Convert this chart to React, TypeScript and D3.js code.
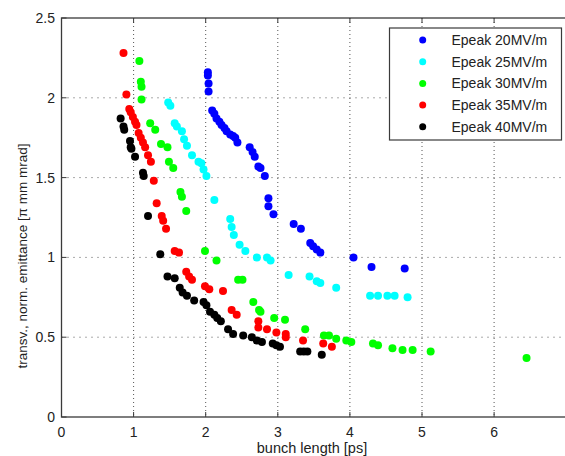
import React from "react";
import * as d3 from "d3";

const xTicks = [0, 1, 2, 3, 4, 5, 6];
const yTicks = [0, 0.5, 1, 1.5, 2, 2.5];
const seriesNames = ["Epeak 20MV/m", "Epeak 25MV/m", "Epeak 30MV/m", "Epeak 35MV/m", "Epeak 40MV/m"];
const seriesColors = ["#0000ff", "#00ffff", "#00ff00", "#ff0000", "#000000"];

const blue: [number, number][] = [
  [2.03, 2.16], [2.03, 2.14], [2.04, 2.09], [2.04, 2.04], [2.09, 1.92], [2.12, 1.9], [2.15, 1.87],
  [2.19, 1.85], [2.22, 1.83], [2.26, 1.81], [2.29, 1.79], [2.34, 1.77], [2.38, 1.76], [2.41, 1.75],
  [2.44, 1.72], [2.61, 1.69], [2.65, 1.66], [2.68, 1.63], [2.73, 1.57], [2.76, 1.56], [2.82, 1.51],
  [2.87, 1.37], [2.87, 1.32], [2.94, 1.27], [3.22, 1.21], [3.32, 1.18], [3.45, 1.09], [3.49, 1.07],
  [3.54, 1.05], [3.59, 1.03], [4.05, 1.0], [4.3, 0.94], [4.76, 0.93],
];
const cyan: [number, number][] = [
  [1.48, 1.97], [1.51, 1.95], [1.57, 1.84], [1.6, 1.82], [1.67, 1.79], [1.7, 1.74], [1.74, 1.7],
  [1.81, 1.64], [1.9, 1.6], [1.94, 1.59], [1.97, 1.55], [2.01, 1.51], [2.12, 1.36], [2.34, 1.24],
  [2.36, 1.19], [2.39, 1.14], [2.47, 1.08], [2.55, 1.04], [2.71, 1.0], [2.85, 1.0], [2.9, 0.98],
  [3.15, 0.89], [3.44, 0.88], [3.54, 0.85], [3.59, 0.84], [3.81, 0.81], [4.28, 0.76], [4.39, 0.76],
  [4.52, 0.76], [4.62, 0.76], [4.8, 0.75],
];
const green: [number, number][] = [
  [1.08, 2.23], [1.1, 2.1], [1.11, 2.07], [1.11, 1.99], [1.23, 1.84], [1.3, 1.8], [1.38, 1.71],
  [1.47, 1.69], [1.49, 1.6], [1.55, 1.56], [1.65, 1.41], [1.67, 1.38], [1.73, 1.29], [1.99, 1.04],
  [2.15, 0.98], [2.45, 0.86], [2.51, 0.86], [2.66, 0.72], [2.74, 0.67], [2.76, 0.66], [2.95, 0.62],
  [3.1, 0.61], [3.38, 0.55], [3.64, 0.51], [3.71, 0.51], [3.81, 0.49], [3.95, 0.48], [4.02, 0.47],
  [4.32, 0.46], [4.39, 0.45], [4.59, 0.43], [4.73, 0.42], [4.87, 0.42], [5.12, 0.41], [6.45, 0.37],
];
const red: [number, number][] = [
  [0.86, 2.28], [0.9, 2.02], [0.94, 1.93], [0.96, 1.91], [0.99, 1.88], [1.02, 1.85], [1.04, 1.83],
  [1.07, 1.78], [1.1, 1.75], [1.13, 1.72], [1.16, 1.69], [1.2, 1.64], [1.24, 1.6], [1.28, 1.48],
  [1.32, 1.34], [1.39, 1.26], [1.41, 1.23], [1.45, 1.18], [1.57, 1.04], [1.63, 1.03], [1.73, 0.91],
  [1.77, 0.88], [1.81, 0.86], [1.99, 0.82], [2.05, 0.8], [2.24, 0.79], [2.36, 0.67], [2.43, 0.64],
  [2.73, 0.6], [2.73, 0.56], [2.85, 0.55], [2.98, 0.53], [3.11, 0.52], [3.11, 0.5], [3.35, 0.48],
  [3.63, 0.46], [3.75, 0.44],
];
const black: [number, number][] = [
  [0.82, 1.87], [0.86, 1.82], [0.87, 1.8], [0.95, 1.73], [0.96, 1.69], [0.97, 1.68], [1.02, 1.63],
  [1.13, 1.53], [1.14, 1.51], [1.2, 1.26], [1.37, 1.02], [1.47, 0.88], [1.57, 0.87], [1.64, 0.81],
  [1.68, 0.78], [1.74, 0.76], [1.84, 0.73], [1.97, 0.72], [2.01, 0.7], [2.06, 0.66], [2.12, 0.64],
  [2.16, 0.62], [2.21, 0.6], [2.31, 0.55], [2.38, 0.52], [2.52, 0.51], [2.64, 0.5], [2.71, 0.48],
  [2.78, 0.47], [2.93, 0.46], [2.98, 0.45], [3.03, 0.44], [3.31, 0.41], [3.36, 0.41], [3.41, 0.41],
  [3.61, 0.39],
];

const allSeries = [blue, cyan, green, red, black];

const W = 565;
const H = 456;
const left = 61.5;
const right = 566.2;
const top = 18;
const bottom = 417;
const font = "Arial, 'Liberation Sans', Helvetica, sans-serif";

export default function App() {
  const x = d3.scaleLinear().domain([0, 7]).range([left, right]);
  const y = d3.scaleLinear().domain([0, 2.5]).range([bottom, top]);
  const frame = "#3a3a3a";

  return (
    <svg
      width={W}
      height={H}
      style={{ position: "fixed", left: 0, top: 0, background: "#fff" }}
      fontFamily={font}
    >
      <rect x={0} y={0} width={W} height={H} fill="#fff" />
      {xTicks.slice(1).map((t) => (
        <line key={"gx" + t} x1={x(t)} x2={x(t)} y1={top} y2={bottom} stroke="#555" strokeWidth={1} strokeDasharray="1,3" />
      ))}
      {yTicks.slice(1, -1).map((t) => (
        <line key={"gy" + t} x1={left} x2={right} y1={y(t)} y2={y(t)} stroke="#555" strokeWidth={1} strokeDasharray="1,5" />
      ))}
      <rect x={left} y={top} width={right - left} height={bottom - top} fill="none" stroke={frame} strokeWidth={1.3} />
      {xTicks.map((t) => (
        <g key={"tx" + t}>
          <line x1={x(t)} x2={x(t)} y1={bottom} y2={bottom - 5} stroke={frame} />
          <line x1={x(t)} x2={x(t)} y1={top} y2={top + 5} stroke={frame} />
          <text x={x(t)} y={437} fontSize={14} textAnchor="middle" fill="#222">
            {d3.format("")(t)}
          </text>
        </g>
      ))}
      {yTicks.map((t) => (
        <g key={"ty" + t}>
          <line x1={left} x2={left + 5} y1={y(t)} y2={y(t)} stroke={frame} />
          <text x={55} y={y(t) + 5} fontSize={14} textAnchor="end" fill="#222">
            {d3.format("")(t)}
          </text>
        </g>
      ))}
      {allSeries.map((s, i) => (
        <g key={"s" + i} fill={seriesColors[i]}>
          {s.map((p, j) => (
            <circle key={j} cx={x(p[0])} cy={y(p[1])} r={4} />
          ))}
        </g>
      ))}
      <text x={312} y={453} fontSize={14.5} textAnchor="middle" fill="#222">
        bunch length [ps]
      </text>
      <text
        transform={`translate(27,256) rotate(-90)`}
        fontSize={13.5}
        textAnchor="middle"
        fill="#222"
      >
        transv., norm. emittance [π mm mrad]
      </text>
      <rect x={389.5} y={28} width={172} height={112} fill="#fff" stroke={frame} strokeWidth={1.2} />
      {seriesNames.map((n, i) => {
        const ly = 40 + i * 21.7;
        return (
          <g key={"l" + i}>
            <circle cx={422.7} cy={ly} r={3.5} fill={seriesColors[i]} />
            <text x={451.5} y={ly + 5} fontSize={14} fill="#222">
              {n}
            </text>
          </g>
        );
      })}
    </svg>
  );
}
